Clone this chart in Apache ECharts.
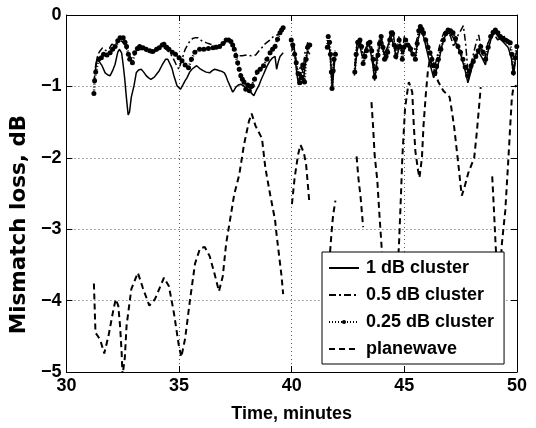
<!DOCTYPE html>
<html>
<head>
<meta charset="utf-8">
<script src="https://cdn.jsdelivr.net/npm/echarts@6/dist/echarts.min.js"></script>
<style>
  html, body { margin: 0; padding: 0; background: #fff; }
  #chart { width: 536px; height: 428px; }
</style>
</head>
<body>
<div id="chart"></div>
<script>
// time in minutes, loss in dB; null marks a gap in the record
const c1T = [31.28, 31.36, 31.47, 31.58, 31.72, 31.84, 31.94, 32.05, 32.16, 32.28, 32.35, 32.45, 32.52, 32.59, 32.66, 32.74, 32.8, 32.88, 33.0, 33.1, 33.2, 33.32, 33.43, 33.54, 33.65, 33.75, 33.9, 34.0, 34.12, 34.25, 34.4, 34.5, 34.58, 34.68, 34.77, 34.91, 35.06, 35.17, 35.27, 35.35, 35.47, 35.57, 35.78, 35.92, 36.07, 36.2, 36.36, 36.47, 36.58, 36.7, 36.8, 36.9, 37.01, 37.09, 37.16, 37.27, 37.38, 37.45, 37.52, 37.63, 37.74, 37.85, 38.0, 38.17, 38.32, 38.42, 38.54, 38.65, 38.75, 38.9, 39.04, 39.15, 39.26, 39.33, 39.4, 39.48, 39.62, 39.8,
  40.0, 40.1, 40.2, 40.3, 40.4, 40.5, 40.6, 40.7, 40.8, 41.2,
  41.6, 41.68, 41.74, 41.8, 41.86, 41.92, 42.3,
  42.78, 42.9, 43.0, 43.15, 43.3, 43.45, 43.6, 43.68, 43.8, 43.95, 44.1, 44.25, 44.4, 44.55, 44.65, 44.8, 44.95, 45.05, 45.2, 45.35, 45.5, 45.6, 45.72, 45.85, 46.0, 46.15, 46.3, 46.38, 46.5, 46.65, 46.8, 46.95, 47.1, 47.3, 47.5, 47.7, 47.82, 47.95, 48.1, 48.3, 48.45, 48.6, 48.75, 48.9, 49.05, 49.2, 49.4, 49.6, 49.75, 49.85, 49.95]
const c1V = [-0.78, -0.62, -0.66, -0.71, -0.81, -0.84, -0.85, -0.78, -0.69, -0.52, -0.48, -0.53, -0.7, -0.9, -1.15, -1.4, -1.36, -1.15, -0.99, -0.81, -0.77, -0.76, -0.8, -0.85, -0.88, -0.9, -0.87, -0.83, -0.78, -0.7, -0.62, -0.62, -0.64, -0.74, -0.85, -0.99, -1.04, -0.98, -0.92, -0.88, -0.8, -0.76, -0.71, -0.75, -0.78, -0.8, -0.81, -0.78, -0.76, -0.77, -0.78, -0.79, -0.81, -0.86, -0.92, -1.0, -1.08, -1.05, -1.01, -0.98, -0.97, -0.99, -1.03, -1.08, -1.13, -1.06, -0.99, -0.9, -0.83, -0.72, -0.64, -0.6, -0.58, -0.76, -0.66, -0.58, -0.53, null,
  -0.5, -0.42, -0.75, -0.98, -0.8, -0.95, -0.7, -0.5, -0.55, null,
  -0.4, -0.48, -0.7, -1.05, -0.8, -0.6, null,
  -0.85, -0.5, -0.4, -0.6, -0.45, -0.42, -0.7, -0.92, -0.6, -0.35, -0.55, -0.45, -0.3, -0.45, -0.62, -0.4, -0.55, -0.4, -0.45, -0.55, -0.58, -0.35, -0.22, -0.3, -0.5, -0.7, -0.88, -0.9, -0.7, -0.45, -0.3, -0.25, -0.28, -0.4, -0.55, -0.78, -0.95, -0.8, -0.62, -0.52, -0.6, -0.7, -0.45, -0.28, -0.25, -0.32, -0.38, -0.45, -0.6, -0.85, -0.55]

const c05T = [31.22, 31.3, 31.4, 31.5, 31.6, 31.75, 31.9, 32.01, 32.15, 32.3, 32.45, 32.6, 32.72, 32.85, 32.95, 33.1, 33.3, 33.5, 33.7, 33.9, 34.1, 34.3, 34.5, 34.7, 34.85, 34.99, 35.1, 35.27, 35.45, 35.6, 35.71, 35.85, 36.0, 36.22, 36.4, 36.6, 36.8, 37.0, 37.2, 37.35, 37.45, 37.55, 37.65, 37.8, 38.0, 38.2, 38.4, 38.55, 38.7, 38.83, 39.0, 39.19, 39.35, 39.5, 39.65, 39.8,
  39.97, 40.08, 40.18, 40.3, 40.4, 40.5, 40.6, 40.72, 40.82, 41.2,
  41.58, 41.66, 41.73, 41.78, 41.85, 41.93, 42.3,
  42.8, 42.9, 43.0, 43.12, 43.25, 43.4, 43.55, 43.65, 43.78, 43.92, 44.05, 44.2, 44.35, 44.5, 44.6, 44.75, 44.9, 45.0, 45.15, 45.3, 45.45, 45.58, 45.7, 45.82, 45.95, 46.1, 46.25, 46.35, 46.48, 46.6, 46.75, 46.9, 47.05, 47.2, 47.35, 47.5, 47.62, 47.72, 47.85, 47.95, 48.1, 48.22, 48.3, 48.42, 48.55, 48.7, 48.85, 49.0, 49.15, 49.3, 49.45, 49.6, 49.72, 49.82, 49.9, 49.98]
const c05V = [-0.95, -0.7, -0.55, -0.5, -0.46, -0.5, -0.47, -0.41, -0.42, -0.4, -0.36, -0.42, -0.52, -0.6, -0.58, -0.5, -0.48, -0.5, -0.53, -0.52, -0.48, -0.45, -0.5, -0.58, -0.68, -0.76, -0.65, -0.48, -0.38, -0.33, -0.32, -0.32, -0.36, -0.39, -0.41, -0.43, -0.42, -0.4, -0.36, -0.4, -0.45, -0.55, -0.57, -0.57, -0.56, -0.57, -0.56, -0.5, -0.45, -0.4, -0.36, -0.3, -0.28, -0.24, -0.19, null,
  -0.4, -0.55, -0.6, -0.85, -0.7, -0.8, -0.5, -0.38, -0.45, null,
  -0.35, -0.42, -0.6, -0.95, -0.72, -0.5, null,
  -0.7, -0.4, -0.33, -0.5, -0.62, -0.35, -0.45, -0.75, -0.55, -0.28, -0.4, -0.65, -0.3, -0.22, -0.5, -0.3, -0.55, -0.3, -0.38, -0.45, -0.5, -0.3, -0.18, -0.22, -0.32, -0.48, -0.6, -0.72, -0.55, -0.38, -0.25, -0.2, -0.3, -0.45, -0.3, -0.22, -0.15, -0.4, -0.9, -0.7, -0.5, -0.35, -0.28, -0.5, -0.65, -0.4, -0.3, -0.28, -0.35, -0.32, -0.3, -0.35, -0.5, -0.75, -0.7, -0.5]

const c025T = [31.22, 31.25, 31.3, 31.43, 31.55, 31.65, 31.8, 31.94, 32.05, 32.16, 32.28, 32.38, 32.52, 32.6, 32.67, 32.75, 32.81, 32.93, 33.03, 33.15, 33.25, 33.4, 33.54, 33.7, 33.83, 34.0, 34.12, 34.25, 34.33, 34.45, 34.55, 34.7, 34.84, 35.0, 35.13, 35.27, 35.42, 35.55, 35.7, 35.91, 36.1, 36.3, 36.51, 36.65, 36.8, 36.95, 37.09, 37.2, 37.3, 37.38, 37.45, 37.52, 37.6, 37.67, 37.74, 37.81, 37.88, 37.96, 38.05, 38.12, 38.2, 38.25, 38.35, 38.47, 38.6, 38.75, 38.9, 39.04, 39.15, 39.26, 39.37, 39.48, 39.55, 39.62, 39.8,
  39.98, 40.05, 40.13, 40.2, 40.28, 40.36, 40.42, 40.49, 40.57, 40.64, 40.71, 40.8, 41.2,
  41.58, 41.62, 41.68, 41.72, 41.76, 41.79, 41.84, 41.88, 41.94, 42.3,
  42.8, 42.86, 42.93, 43.03, 43.1, 43.17, 43.25, 43.32, 43.4, 43.47, 43.55, 43.61, 43.68, 43.75, 43.83, 43.9, 43.97, 44.05, 44.12, 44.19, 44.26, 44.35, 44.42, 44.48, 44.55, 44.62, 44.7, 44.77, 44.84, 44.91, 44.98, 45.06, 45.15, 45.27, 45.38, 45.49, 45.57, 45.64, 45.71, 45.78, 45.85, 45.95, 46.05, 46.14, 46.22, 46.29, 46.36, 46.43, 46.51, 46.62, 46.73, 46.84, 46.94, 47.05, 47.16, 47.27, 47.38, 47.49, 47.6, 47.7, 47.81, 47.88, 47.96, 48.06, 48.17, 48.28, 48.39, 48.5, 48.61, 48.72, 48.83, 48.94, 49.04, 49.15, 49.26, 49.37, 49.48, 49.59, 49.7, 49.77, 49.84, 49.92, 49.99]
const c025V = [-1.1, -0.92, -0.8, -0.62, -0.6, -0.55, -0.56, -0.53, -0.48, -0.44, -0.36, -0.32, -0.32, -0.38, -0.44, -0.55, -0.62, -0.67, -0.53, -0.47, -0.44, -0.46, -0.48, -0.5, -0.51, -0.48, -0.46, -0.42, -0.41, -0.45, -0.48, -0.52, -0.55, -0.6, -0.64, -0.7, -0.74, -0.62, -0.52, -0.48, -0.48, -0.47, -0.46, -0.45, -0.44, -0.4, -0.35, -0.35, -0.37, -0.42, -0.48, -0.57, -0.67, -0.76, -0.85, -0.9, -0.94, -1.04, -0.98, -1.06, -1.0, -0.99, -0.9, -0.8, -0.76, -0.71, -0.62, -0.53, -0.48, -0.44, -0.34, -0.25, -0.21, -0.18, null,
  -0.35, -0.42, -0.55, -0.67, -0.82, -0.95, -0.88, -0.7, -0.94, -0.62, -0.45, -0.42, null,
  -0.45, -0.3, -0.38, -0.55, -0.8, -1.03, -0.78, -0.62, -0.55, null,
  -0.8, -0.55, -0.38, -0.35, -0.44, -0.68, -0.58, -0.5, -0.4, -0.38, -0.5, -0.62, -0.87, -0.75, -0.56, -0.4, -0.3, -0.45, -0.62, -0.58, -0.52, -0.35, -0.25, -0.26, -0.42, -0.58, -0.45, -0.35, -0.45, -0.62, -0.45, -0.35, -0.42, -0.48, -0.55, -0.62, -0.4, -0.22, -0.16, -0.2, -0.25, -0.35, -0.45, -0.53, -0.62, -0.71, -0.81, -0.72, -0.62, -0.48, -0.35, -0.26, -0.21, -0.22, -0.25, -0.33, -0.44, -0.52, -0.62, -0.73, -0.85, -0.78, -0.71, -0.65, -0.58, -0.5, -0.44, -0.52, -0.62, -0.45, -0.3, -0.24, -0.21, -0.25, -0.3, -0.33, -0.35, -0.37, -0.39, -0.55, -0.81, -0.6, -0.44]

const pwT = [31.22, 31.29, 31.4, 31.51, 31.68, 31.87, 32.09, 32.19, 32.3, 32.38, 32.45, 32.49, 32.59, 32.67, 32.88, 33.17, 33.39, 33.68, 33.93, 34.33, 34.55, 34.77, 34.99, 35.1, 35.27, 35.49, 35.71, 35.93, 36.14, 36.36, 36.58, 36.77, 36.94, 37.09, 37.19, 37.45, 37.67, 37.88, 38.1, 38.22, 38.39, 38.68, 38.83, 39.04, 39.26, 39.33, 39.55, 39.62, 39.8,
  40.01, 40.13, 40.28, 40.39, 40.54, 40.64, 40.74, 40.78, 41.2,
  41.64, 41.68, 41.72, 41.76, 41.8, 41.84, 41.89, 41.94, 42.4,
  42.88, 42.96, 43.06, 43.17, 43.35,
  43.54, 43.61, 43.68, 43.8, 43.9, 43.97, 44.1, 44.3, 44.5, 44.7, 44.77, 44.84, 44.91, 45.03, 45.13, 45.2, 45.35, 45.42, 45.49, 45.61, 45.67, 45.78, 45.85, 45.96, 46.04, 46.13, 46.3, 46.51, 46.73, 47.01, 47.09, 47.2, 47.3, 47.4, 47.49, 47.55, 47.67, 47.84, 48.1, 48.22, 48.32, 48.39, 48.6,
  48.9, 48.97, 49.04, 49.18, 49.33, 49.48, 49.55, 49.62, 49.7, 49.77, 49.84, 49.99]
const pwV = [-3.76, -4.45, -4.5, -4.56, -4.74, -4.49, -4.12, -3.98, -4.07, -4.35, -4.72, -5.05, -4.81, -4.35, -3.84, -3.61, -3.82, -4.07, -3.98, -3.68, -3.8, -4.17, -4.63, -4.79, -4.53, -3.98, -3.48, -3.27, -3.25, -3.38, -3.63, -3.87, -3.66, -3.2, -3.01, -2.51, -2.24, -1.82, -1.49, -1.38, -1.55, -1.73, -2.14, -2.51, -2.87, -3.08, -3.66, -3.91, null,
  -2.65, -2.28, -1.96, -1.82, -1.93, -2.1, -2.46, -2.62, null,
  -3.6, -3.4, -3.25, -3.08, -2.93, -2.8, -2.7, -2.6, null,
  -1.98, -2.28, -2.56, -2.97, null,
  -1.22, -1.55, -1.96, -2.32, -2.83, -3.15, -3.8, -4.3, -4.2, -3.6, -3.15, -2.6, -2.0, -1.31, -1.08, -0.94, -1.08, -1.55, -1.91, -2.18, -2.28, -2.0, -1.55, -1.08, -0.8, -0.62, -0.75, -0.94, -1.06, -1.15, -1.31, -1.54, -1.82, -2.1, -2.37, -2.53, -2.41, -2.21, -2.0, -1.63, -1.27, -1.01, null,
  -2.26, -2.69, -3.15, -4.0, -3.2, -2.74, -2.37, -2.0, -1.55, -1.17, -1.01, -0.99]

const xTicks = [30, 35, 40, 45, 50]
const yTicks = [0, -1, -2, -3, -4, -5]
const seriesNames = ['1 dB cluster', '0.5 dB cluster', '0.25 dB cluster', 'planewave']

const pairs = (t, v) => t.map((x, i) => [x, v[i] === null ? '-' : v[i]])

const chart = echarts.init(document.getElementById('chart'), null, { renderer: 'canvas' })

const font = 'Liberation Sans, Helvetica, Arial, sans-serif'
const tickStyle = { show: true, inside: true, length: 6, lineStyle: { color: '#000', width: 1 } }
const axisLine = { show: true, onZero: false, lineStyle: { color: '#000', width: 1 } }
const gridDots = { show: true, lineStyle: { color: '#555', width: 1, type: [1, 3] } }
const minus = v => (v < 0 ? '\u2212' + Math.abs(v) : String(v))

const option = {
  animation: false,
  backgroundColor: '#fff',
  grid: { left: 57, right: 19, top: 15, bottom: 51, containLabel: false },
  xAxis: [
    {
      type: 'value', min: xTicks[0], max: xTicks[xTicks.length - 1], interval: 5,
      position: 'bottom',
      axisLine, axisTick: tickStyle,
      axisLabel: { color: '#000', fontSize: 18, fontWeight: 'bold', fontFamily: font, margin: 5 },
      splitLine: gridDots,
      name: 'Time, minutes', nameLocation: 'middle', nameGap: 33,
      nameTextStyle: { color: '#000', fontSize: 18, fontWeight: 'bold', fontFamily: font }
    },
    {
      type: 'value', min: xTicks[0], max: xTicks[xTicks.length - 1], interval: 5,
      position: 'top', axisLine, axisTick: tickStyle,
      axisLabel: { show: false }, splitLine: { show: false }
    }
  ],
  yAxis: [
    {
      type: 'value', min: yTicks[yTicks.length - 1], max: yTicks[0], interval: 1,
      position: 'left',
      axisLine, axisTick: tickStyle,
      axisLabel: { color: '#000', fontSize: 18, fontWeight: 'bold', fontFamily: font, margin: 5, formatter: minus },
      splitLine: gridDots,
      name: 'Mismatch loss, dB', nameLocation: 'middle', nameGap: 20, nameRotate: 90,
      nameTextStyle: { color: '#000', fontSize: 21.5, fontWeight: 'bold', fontFamily: 'DejaVu Sans', padding: [0, 62, 0, 0] }
    },
    {
      type: 'value', min: yTicks[yTicks.length - 1], max: yTicks[0], interval: 1,
      position: 'right', axisLine, axisTick: tickStyle,
      axisLabel: { show: false }, splitLine: { show: false }
    }
  ],
  legend: {
    orient: 'vertical', left: 322, top: 252,
    backgroundColor: '#fff', borderColor: '#000', borderWidth: 1, borderRadius: 0,
    padding: [6, 10, 5, 6],
    itemWidth: 30, itemHeight: 5, itemGap: 7,
    textStyle: { color: '#000', fontSize: 18, fontWeight: 'bold', fontFamily: font, padding: [0, 0, 0, 2], lineHeight: 20 },
    data: [
      { name: seriesNames[0], itemStyle: { opacity: 0 } },
      { name: seriesNames[1], itemStyle: { opacity: 0 } },
      { name: seriesNames[2] },
      { name: seriesNames[3], itemStyle: { opacity: 0 } }
    ]
  },
  series: [
    {
      name: seriesNames[0], type: 'line', data: pairs(c1T, c1V),
      showSymbol: false, symbol: 'none', connectNulls: false,
      lineStyle: { color: '#000', width: 1.5, type: 'solid' }, itemStyle: { color: '#000' }
    },
    {
      name: seriesNames[1], type: 'line', data: pairs(c05T, c05V),
      showSymbol: false, symbol: 'none', connectNulls: false,
      lineStyle: { color: '#000', width: 1.5, type: [7, 3, 2, 3] }, itemStyle: { color: '#000' }
    },
    {
      name: seriesNames[2], type: 'line', data: pairs(c025T, c025V),
      symbol: 'circle', symbolSize: 5, showSymbol: true, showAllSymbol: true, connectNulls: false,
      lineStyle: { color: '#000', width: 2.5, type: [1, 2] }, itemStyle: { color: '#000' }
    },
    {
      name: seriesNames[3], type: 'line', data: pairs(pwT, pwV),
      showSymbol: false, symbol: 'none', connectNulls: false,
      lineStyle: { color: '#000', width: 2, type: [6, 4] }, itemStyle: { color: '#000' }
    }
  ]
}

chart.setOption(option)
window.addEventListener('resize', () => chart.resize())
</script>
</body>
</html>
